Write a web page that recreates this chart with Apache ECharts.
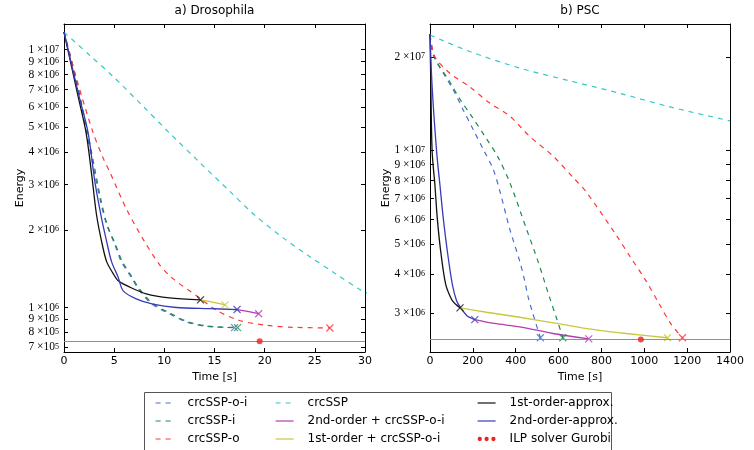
<!DOCTYPE html>
<html><head><meta charset="utf-8">
<script src="https://cdn.jsdelivr.net/npm/echarts@6/dist/echarts.min.js"></script>
<style>html,body{margin:0;padding:0;background:#fff}#c{width:754px;height:450px}</style>
</head><body><div id="c"></div>
<script>
// ---------------- data ----------------
const legendCol1 = ['crcSSP-o-i', 'crcSSP-i', 'crcSSP-o'];
const legendCol2 = ['crcSSP', '2nd-order + crcSSP-o-i', '1st-order + crcSSP-o-i'];
const legendCol3 = ['1st-order-approx.', '2nd-order-approx.', 'ILP solver Gurobi'];

const panelTitles = ['a) Drosophila', 'b) PSC'];

// a) Drosophila  [time s, energy]
const droOI = [[0,1.17e7],[1.2,7.6e6],[2.25,4.77e6],[2.9,3.56e6],[3.57,2.65e6],[4.24,2.1e6],[5.06,1.76e6],[5.7,1.51e6],[6.7,1.31e6],[7.35,1.19e6],[8.7,1.035e6],[10.5,0.946e6],[12.2,0.879e6],[14.2,0.845e6],[17.0,0.835e6]];
const droI  = [[0,1.17e7],[1.25,7.6e6],[2.35,4.77e6],[3.0,3.56e6],[3.65,2.65e6],[4.3,2.1e6],[5.12,1.76e6],[5.8,1.51e6],[6.8,1.31e6],[7.45,1.19e6],[8.8,1.04e6],[10.6,0.95e6],[12.3,0.882e6],[14.4,0.847e6],[17.3,0.836e6]];
const droO  = [[0,1.17e7],[1.3,7.6e6],[2.9,4.77e6],[3.9,3.8e6],[4.57,3.35e6],[6.2,2.42e6],[7.85,1.85e6],[9.5,1.47e6],[10.8,1.30e6],[13.5,1.09e6],[15.2,0.975e6],[17.5,0.89e6],[20.2,0.853e6],[22.8,0.838e6],[26.5,0.833e6]];
const droSSP = [[0,1.17e7],[2.58,9.5e6],[4.87,7.89e6],[7.85,6.05e6],[10.5,4.76e6],[13.5,3.66e6],[16.5,2.83e6],[18.8,2.32e6],[21.7,1.88e6],[24.4,1.585e6],[27.1,1.35e6],[29.7,1.16e6],[30.5,1.13e6]];
const dro2ndPlus = [[17.25,0.982e6],[18.3,0.965e6],[19.4,0.946e6]];
const dro1stPlus = [[13.6,1.07e6],[14.8,1.05e6],[16.05,1.024e6]];
const dro1st = [[0,1.17e7],[1.4,6.6e6],[2.2,4.77e6],[2.75,3.3e6],[3.24,2.29e6],[3.74,1.81e6],[4.24,1.51e6],[4.87,1.36e6],[5.4,1.27e6],[6.55,1.20e6],[8.2,1.13e6],[10.5,1.09e6],[13.6,1.07e6]];
const dro2nd = [[0,1.17e7],[1.5,6.6e6],[2.4,4.77e6],[3.08,3.07e6],[3.74,2.22e6],[4.24,1.81e6],[4.73,1.51e6],[5.4,1.31e6],[5.9,1.16e6],[7.2,1.08e6],[8.87,1.03e6],[11.2,1.0e6],[14.5,0.99e6],[17.25,0.982e6]];
const droILP = [[19.5,7.4e5]];

// b) PSC  [time s, energy]
const pscOI = [[0,2.35e7],[20,2.0e7],[60,1.78e7],[108,1.57e7],[155,1.35e7],[201,1.17e7],[248,1.01e7],[295,8.7e6],[326,7.4e6],[372,5.6e6],[419,4.4e6],[442,3.81e6],[457,3.4e6],[480,2.99e6],[515,2.5e6]];
const pscI  = [[0,2.35e7],[16,2.02e7],[93,1.66e7],[140,1.46e7],[194,1.29e7],[264,1.09e7],[318,9.5e6],[372,7.9e6],[450,5.6e6],[504,4.4e6],[558,3.37e6],[589,2.91e6],[620,2.5e6]];
const pscO  = [[0,2.35e7],[23,2.0e7],[93,1.77e7],[186,1.6e7],[279,1.42e7],[372,1.29e7],[465,1.11e7],[574,9.6e6],[674,8.1e6],[729,7.36e6],[868,5.36e6],[930,4.6e6],[1008,3.81e6],[1070,3.21e6],[1124,2.77e6],[1178,2.5e6]];
const pscSSP = [[0,2.35e7],[186,2.08e7],[419,1.84e7],[651,1.675e7],[884,1.528e7],[1116,1.383e7],[1400,1.245e7]];
const psc2ndPlus = [[209,2.86e6],[300,2.78e6],[419,2.71e6],[574,2.58e6],[741,2.48e6]];
const psc1stPlus = [[140,3.12e6],[264,3.02e6],[419,2.91e6],[605,2.77e6],[760,2.66e6],[915,2.58e6],[1108,2.5e6]];
const psc1st = [[0,2.37e7],[4,1.6e7],[10,9.9e6],[23,7.73e6],[34,6.05e6],[50,4.74e6],[73,3.72e6],[101,3.32e6],[120,3.2e6],[140,3.12e6]];
const psc2nd = [[0,2.37e7],[10,1.6e7],[31,9.9e6],[46.5,7.73e6],[62,6.05e6],[81,4.74e6],[104,3.72e6],[124,3.29e6],[140,3.15e6],[171,2.95e6],[209,2.86e6]];
const pscILP = [[984,2.47e6]];

const droYTicks = [7e5,8e5,9e5,1e6,2e6,3e6,4e6,5e6,6e6,7e6,8e6,9e6,1e7];
const pscYTicks = [3e6,4e6,5e6,6e6,7e6,8e6,9e6,1e7,2e7];

// ---------------- styles ----------------
const COL = {
  'crcSSP-o-i': '#4a6cd0', 'crcSSP-i': '#1f8a4c', 'crcSSP-o': '#ff3636', 'crcSSP': '#33c9c9',
  '2nd-order + crcSSP-o-i': '#b43cb4', '1st-order + crcSSP-o-i': '#c8c83c',
  '1st-order-approx.': '#111111', '2nd-order-approx.': '#3a3ab8', 'ILP solver Gurobi': '#ee2020'
};
const DASHED = { 'crcSSP-o-i': 1, 'crcSSP-i': 1, 'crcSSP-o': 1, 'crcSSP': 1 };
const DASH = [5, 5];
const FONT = "'DejaVu Sans', sans-serif";
const SERIF = "'Liberation Serif', 'DejaVu Serif', serif";

const chart = echarts.init(document.getElementById('c'), null, { renderer: 'canvas' });

const grids = [
  { left: 64, top: 20, width: 301, height: 332 },
  { left: 430, top: 20, width: 300, height: 332 }
];

function xAxes(gi, max, interval, title) {
  const base = {
    gridIndex: gi, type: 'value', min: 0, max: max, interval: interval,
    splitLine: { show: false },
    axisLine: { show: true, onZero: false, lineStyle: { color: '#000', width: 1 } },
    axisTick: { show: true, inside: true, length: 4, lineStyle: { color: '#000' } }
  };
  return [
    Object.assign({}, base, {
      position: 'bottom', name: 'Time [s]', nameLocation: 'middle', nameGap: 15,
      nameTextStyle: { fontFamily: FONT, fontSize: 11, color: '#000' },
      axisLabel: { show: true, margin: 4, fontFamily: FONT, fontSize: 11, color: '#000',
        showMaxLabel: true, showMinLabel: true, formatter: function (v) { return String(v); } }
    }),
    Object.assign({}, base, {
      position: 'top', name: title, nameLocation: 'middle', nameGap: 7,
      nameTextStyle: { fontFamily: FONT, fontSize: 12, color: '#000' },
      axisLabel: { show: false }
    })
  ];
}

function sciLabel(v) {
  const e = Math.floor(Math.log10(v) + 1e-9);
  const m = Math.round(v / Math.pow(10, e));
  return '{m|' + m + ' \u00d710}{e|' + e + '}';
}
const labelRich = {
  m: { fontFamily: SERIF, fontSize: 11.5, color: '#000', lineHeight: 9 },
  e: { fontFamily: SERIF, fontSize: 8, color: '#000', verticalAlign: 'top', lineHeight: 5 }
};

// labels alternate between two overlaid left axes so close neighbours are never hidden
function yAxes(gi, min, max, ticks) {
  const even = ticks.filter(function (t, i) { return i % 2 === 0; });
  const odd = ticks.filter(function (t, i) { return i % 2 === 1; });
  const base = {
    gridIndex: gi, type: 'log', logBase: 10, min: min, max: max,
    splitLine: { show: false }, minorTick: { show: false },
    axisLine: { show: true, onZero: false, lineStyle: { color: '#000', width: 1 } },
    axisTick: { show: true, inside: true, length: 4, lineStyle: { color: '#000' }, customValues: ticks }
  };
  return [
    Object.assign({}, base, {
      position: 'left', name: 'Energy', nameLocation: 'middle', nameGap: 38, nameRotate: 90,
      nameMoveOverlap: false,
      nameTextStyle: { fontFamily: FONT, fontSize: 11, color: '#000' },
      axisLabel: { show: true, margin: 5, customValues: even, showMaxLabel: true, showMinLabel: true,
        hideOverlap: false, formatter: sciLabel, rich: labelRich }
    }),
    Object.assign({}, base, { position: 'right', axisLabel: { show: false } }),
    Object.assign({}, base, {
      position: 'left', axisLine: { show: false }, axisTick: { show: false },
      axisLabel: { show: true, margin: 5, customValues: odd, showMaxLabel: true, showMinLabel: true,
        hideOverlap: false, formatter: sciLabel, rich: labelRich }
    })
  ];
}

const series = [];
function addPanel(xi, yi, sets, ilp) {
  const ends = [];
  sets.forEach(function (s) {
    const name = s[0], data = s[1], cross = s[2];
    const c = COL[name];
    series.push({
      type: 'line', name: name, data: data, xAxisIndex: xi, yAxisIndex: yi,
      symbol: 'none', smooth: 0.3, clip: true, animation: false,
      lineStyle: { color: c, width: DASHED[name] ? 1.2 : 1.3, type: DASHED[name] ? DASH : 'solid' },
      itemStyle: { color: c }, emphasis: { disabled: true }
    });
    if (cross) ends.push({ value: data[data.length - 1], itemStyle: { borderColor: c } });
  });
  series.push({
    type: 'scatter', name: 'end markers ' + xi, xAxisIndex: xi, yAxisIndex: yi,
    symbol: 'path://M0,0L10,10M10,0L0,10', symbolSize: 7, data: ends, z: 4,
    itemStyle: { color: 'none', borderWidth: 1.2 }, emphasis: { disabled: true }, animation: false
  });
  series.push({
    type: 'scatter', name: 'ILP solver Gurobi', xAxisIndex: xi, yAxisIndex: yi,
    symbol: 'circle', symbolSize: 6, data: ilp, z: 5,
    itemStyle: { color: COL['ILP solver Gurobi'] }, emphasis: { disabled: true }, animation: false,
    markLine: {
      silent: true, symbol: 'none', animation: false, label: { show: false },
      lineStyle: { color: '#909090', type: 'solid', width: 1 },
      data: [{ yAxis: ilp[0][1] }]
    }
  });
}

addPanel(0, 0, [
  ['crcSSP-o-i', droOI, true], ['crcSSP-i', droI, true], ['crcSSP-o', droO, true], ['crcSSP', droSSP, false],
  ['1st-order-approx.', dro1st, true], ['2nd-order-approx.', dro2nd, true],
  ['1st-order + crcSSP-o-i', dro1stPlus, true], ['2nd-order + crcSSP-o-i', dro2ndPlus, true]
], droILP);
addPanel(2, 3, [
  ['crcSSP-o-i', pscOI, true], ['crcSSP-i', pscI, true], ['crcSSP-o', pscO, true], ['crcSSP', pscSSP, false],
  ['1st-order-approx.', psc1st, true], ['2nd-order-approx.', psc2nd, true],
  ['1st-order + crcSSP-o-i', psc1stPlus, true], ['2nd-order + crcSSP-o-i', psc2ndPlus, true]
], pscILP);

function legendCol(names, left) {
  return {
    orient: 'vertical', left: left, top: 396, padding: 0, itemGap: 4,
    itemWidth: 18, itemHeight: 10, selectedMode: false,
    itemStyle: { opacity: 0 },
    textStyle: { fontFamily: FONT, fontSize: 12, color: '#000', lineHeight: 14, padding: [0, 0, 0, 9] },
    data: names.map(function (n) {
      if (n === 'ILP solver Gurobi') {
        return { name: n, itemStyle: { opacity: 1, color: COL[n] },
          icon: 'path://M0,2.5a2.5,2.5 0 1,0 5,0a2.5,2.5 0 1,0 -5,0M8,2.5a2.5,2.5 0 1,0 5,0a2.5,2.5 0 1,0 -5,0M16,2.5a2.5,2.5 0 1,0 5,0a2.5,2.5 0 1,0 -5,0' };
      }
      return { name: n, lineStyle: { color: COL[n], width: 1.2, type: DASHED[n] ? DASH : 'solid' } };
    })
  };
}

const option = {
  backgroundColor: '#fff',
  animation: false,
  grid: grids,
  xAxis: xAxes(0, 30, 5, panelTitles[0]).concat(xAxes(1, 1400, 200, panelTitles[1])),
  yAxis: yAxes(0, 6.72e5, 1.258e7, droYTicks).concat(yAxes(1, 2.25e6, 2.55e7, pscYTicks)),
  legend: [legendCol(legendCol1, 155), legendCol(legendCol2, 275), legendCol(legendCol3, 477)],
  graphic: [{
    type: 'rect', left: 144, top: 392, silent: true, z: -1,
    shape: { width: 467, height: 70 },
    style: { fill: '#fff', stroke: '#555', lineWidth: 1 }
  }],
  series: series
};
chart.setOption(option);
</script></body></html>
